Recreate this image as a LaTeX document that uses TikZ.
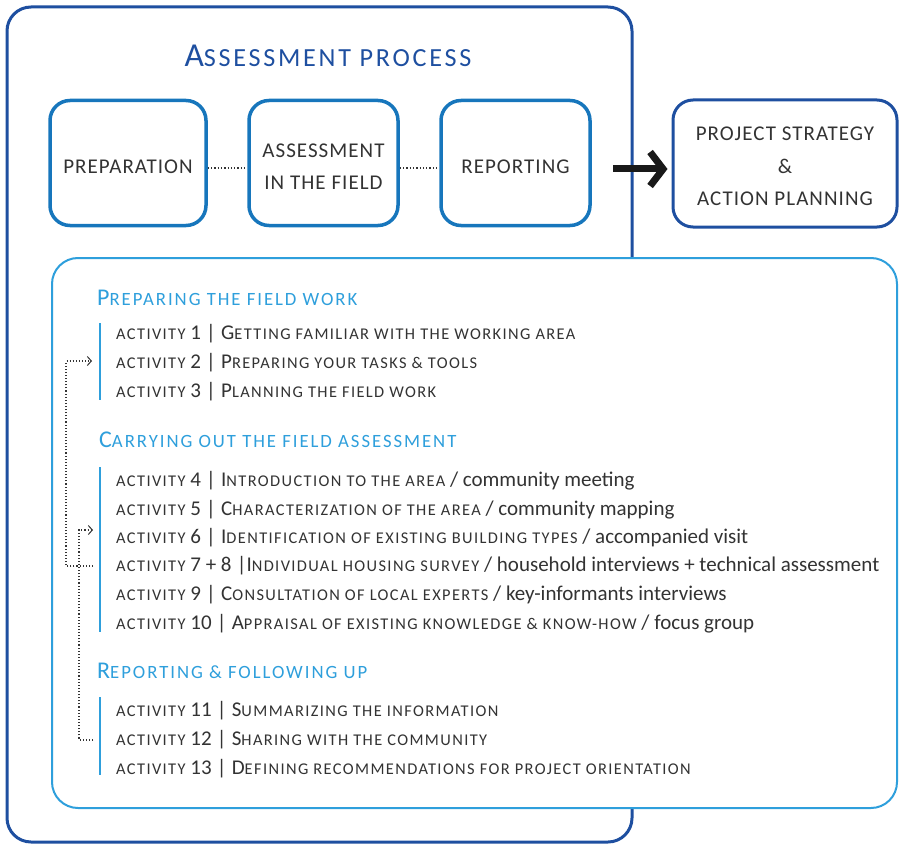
\documentclass[tikz,border=0pt]{standalone}
\usepackage{fontspec}
\setmainfont{Carlito}
\newfontfamily\scfont[LetterSpace=8.5]{Carlito}
\newfontfamily\scwfont[LetterSpace=10.5]{Carlito}
\newfontfamily\capfont[LetterSpace=5]{Carlito}
\usetikzlibrary{arrows.meta}
\definecolor{darkblue}{HTML}{1E4FA0}
\definecolor{midblue}{HTML}{1776BC}
\definecolor{lightblue}{HTML}{2E9FDC}
\definecolor{textgray}{HTML}{333333}
\makeatletter
\newcommand\smc[1]{{\scfont\fontsize{\the\dimexpr0.78\dimexpr\f@size pt\relax\relax}{\f@size pt}\selectfont\MakeUppercase{#1}}}
\newcommand\smcw[1]{{\scwfont\fontsize{\the\dimexpr0.78\dimexpr\f@size pt\relax\relax}{\f@size pt}\selectfont\MakeUppercase{#1}}}
\makeatother
\newcommand\sepbar{\hspace{0.25em}|\hspace{0.25em}}
\newcommand\act[1]{\smc{activity} #1}
\begin{document}
\begin{tikzpicture}[x=1pt,y=-1pt,
  outerbox/.style={draw=darkblue,line width=3pt,rounded corners=24pt},
  innerbox/.style={draw=lightblue,line width=2pt,rounded corners=26pt,fill=white},
  procbox/.style={draw=midblue,line width=3.5pt,rounded corners=20pt,minimum height=125pt,inner sep=0pt},
  projbox/.style={draw=darkblue,line width=3pt,rounded corners=20pt,minimum width=224pt,minimum height=127pt,inner sep=0pt},
  boxlabel/.style={text=textgray,align=center,font=\capfont\fontsize{21}{32.5}\selectfont,inner sep=0pt},
  titletext/.style={text=darkblue,font=\fontsize{33.5}{40}\selectfont,inner sep=0pt},
  headtext/.style={text=lightblue,font=\fontsize{24}{28}\selectfont,anchor=base west,inner sep=0pt},
  acttext/.style={text=textgray,font=\fontsize{21}{24}\selectfont,anchor=base west,inner sep=0pt},
  bluebar/.style={draw=lightblue,line width=2.5pt},
  dotline/.style={draw=textgray,line width=1.3pt,dotted},
  dotconn/.style={draw=textgray,line width=1.1pt,dotted,-{Straight Barb[length=4pt,width=9pt,line width=1pt]}},
  bigarrow/.style={draw=black!90,line width=7pt,-{Straight Barb[length=13pt,width=34pt,line width=7pt]}}
]
\useasboundingbox (0,0) rectangle (899,845);
% outer frame
\draw[outerbox] (7,7) rectangle (632,842);
\node[titletext] (title) at (328,56) {A\smcw{ssessment process}};
% process boxes
\node[procbox,minimum width=156pt] (prep) at (128,163) {};
\node[procbox,minimum width=149pt] (assess) at (323.5,163) {};
\node[procbox,minimum width=149pt] (report) at (515.5,163) {};
\node[boxlabel] (prepL) at ([yshift=-3.5pt]prep.center) {PREPARATION};
\node[boxlabel] (assessL) at ([yshift=-3.5pt]assess.center) {ASSESSMENT\\IN THE FIELD};
\node[boxlabel] (reportL) at ([yshift=-3.5pt]report.center) {REPORTING};
\draw[dotline] ([yshift=-5pt]prep.east) -- ([yshift=-5pt]assess.west);
\draw[dotline] ([yshift=-5pt]assess.east) -- ([yshift=-5pt]report.west);
% project box
\node[projbox] (proj) at (785,163.5) {};
\node[boxlabel] (projL) at ([yshift=-3pt]proj.center) {PROJECT STRATEGY\\\&\\ACTION PLANNING};
\coordinate (arrstart) at (613,169);
\draw[bigarrow] (arrstart) -- ([xshift=-4pt]arrstart -| proj.west);
% inner box
\draw[innerbox] (52,258) rectangle (897,808);
% headings
\node[headtext] (h1) at (97,305) {P\smcw{reparing the field work}};
\node[headtext] (h2) at (99,447) {C\smcw{arrying out the field assessment}};
\node[headtext] (h3) at (97,678) {R\smcw{eporting \& following up}};
% bars
\draw[bluebar] (100,323) -- (100,400);
\draw[bluebar] (100,467) -- (100,632);
\draw[bluebar] (100,697) -- (100,775);
% activities
\node[acttext] (a1) at (116,339) {\act{1}\sepbar G\smc{etting familiar with the working area}};
\node[acttext] (a2) at (116,368) {\act{2}\sepbar P\smc{reparing your tasks \& tools}};
\node[acttext] (a3) at (116,397) {\act{3}\sepbar P\smc{lanning the field work}};
\node[acttext] (a4) at (116,486) {\act{4}\sepbar I\smc{ntroduction to the area} / community meeting};
\node[acttext] (a5) at (116,515) {\act{5}\sepbar C\smc{haracterization of the area} / community mapping};
\node[acttext] (a6) at (116,543) {\act{6}\sepbar I\smc{dentification of existing building types} / accompanied visit};
\node[acttext] (a78) at (116,571) {\act{7 + 8}\hspace{0.25em}|I\smc{ndividual housing survey} / household interviews + technical assessment};
\node[acttext] (a9) at (116,600) {\act{9}\sepbar C\smc{onsultation of local experts} / key-informants interviews};
\node[acttext] (a10) at (116,629) {\act{10}\sepbar A\smc{ppraisal of existing knowledge \& know-how} / focus group};
\node[acttext] (a11) at (116,716) {\act{11}\sepbar S\smc{ummarizing the information}};
\node[acttext] (a12) at (116,745) {\act{12}\sepbar S\smc{haring with the community}};
\node[acttext] (a13) at (116,774) {\act{13}\sepbar D\smc{efining recommendations for project orientation}};
% dotted feedback connectors
\coordinate (c1s) at (93,566);
\coordinate (c1e) at (92,361);
\draw[dotconn] (c1s) -- (66,566) |- (c1e);
\coordinate (c2s) at (93,740);
\coordinate (c2e) at (93,530);
\draw[dotconn] (c2s) -- (79,740) |- (c2e);
\end{tikzpicture}
\end{document}
